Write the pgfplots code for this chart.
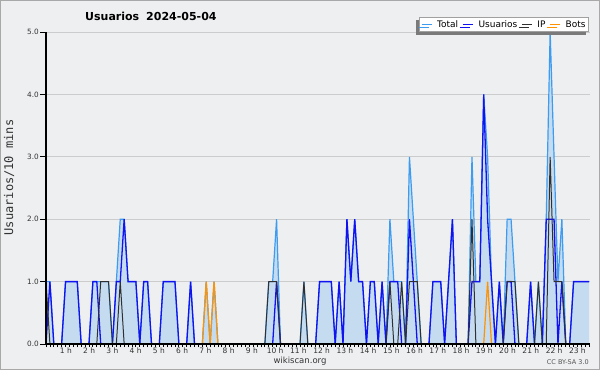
\documentclass[border=0pt]{standalone}
\usepackage{pgfplots}
\pgfplotsset{compat=1.18}
\usepackage{pgfplotstable}
\usetikzlibrary{shadows}
\usepackage{fontspec}
\setmainfont{DejaVu Sans}
\newfontfamily\monofont{DejaVu Sans Mono}
\definecolor{bg}{HTML}{EEEFF1}
\definecolor{bordergray}{HTML}{A8A8A8}
\definecolor{gridgray}{HTML}{CCCCCC}
\definecolor{fillblue}{HTML}{C5DCF0}
\definecolor{totalblue}{HTML}{3D9BF0}
\definecolor{userblue}{HTML}{1212F0}
\definecolor{ipblack}{HTML}{303030}
\definecolor{botorange}{HTML}{FF9200}
\definecolor{txt}{HTML}{333333}
\definecolor{txtb}{HTML}{555555}
\definecolor{legborder}{HTML}{A0A0A0}
\definecolor{shadowgray}{HTML}{7A7A7A}
\pgfplotstableread{
j U IP B T
0 0 1 0 1
1 1 0 0 1
2 0 0 0 0
3 0 0 0 0
4 0 0 0 0
5 1 0 0 1
6 1 0 0 1
7 1 0 0 1
8 1 0 0 1
9 0 0 0 0
10 0 0 0 0
11 0 0 0 0
12 1 0 0 1
13 1 0 0 1
14 0 1 0 1
15 0 1 0 1
16 0 1 0 1
17 0 0 0 0
18 1 0 0 1
19 1 1 0 2
20 2 0 0 2
21 1 0 0 1
22 1 0 0 1
23 1 0 0 1
24 0 0 0 0
25 1 0 0 1
26 1 0 0 1
27 0 0 0 0
28 0 0 0 0
29 0 0 0 0
30 1 0 0 1
31 1 0 0 1
32 1 0 0 1
33 1 0 0 1
34 0 0 0 0
35 0 0 0 0
36 0 0 0 0
37 1 0 0 1
38 0 0 0 0
39 0 0 0 0
40 0 0 0 0
41 0 0 1 1
42 0 0 0 0
43 0 0 1 1
44 0 0 0 0
45 0 0 0 0
46 0 0 0 0
47 0 0 0 0
48 0 0 0 0
49 0 0 0 0
50 0 0 0 0
51 0 0 0 0
52 0 0 0 0
53 0 0 0 0
54 0 0 0 0
55 0 0 0 0
56 0 0 0 0
57 0 1 0 1
58 0 1 0 1
59 1 1 0 2
60 0 0 0 0
61 0 0 0 0
62 0 0 0 0
63 0 0 0 0
64 0 0 0 0
65 0 0 0 0
66 0 1 0 1
67 0 0 0 0
68 0 0 0 0
69 0 0 0 0
70 1 0 0 1
71 1 0 0 1
72 1 0 0 1
73 1 0 0 1
74 0 0 0 0
75 1 0 0 1
76 0 0 0 0
77 2 0 0 2
78 1 0 0 1
79 2 0 0 2
80 1 0 0 1
81 1 0 0 1
82 0 0 0 0
83 1 0 0 1
84 1 0 0 1
85 0 0 0 0
86 1 0 0 1
87 0 0 0 0
88 1 1 0 2
89 1 0 0 1
90 1 0 0 1
91 0 1 0 1
92 0 0 0 0
93 2 1 0 3
94 1 1 0 2
95 0 1 0 1
96 0 0 0 0
97 0 0 0 0
98 0 0 0 0
99 1 0 0 1
100 1 0 0 1
101 1 0 0 1
102 0 0 0 0
103 1 0 0 1
104 2 0 0 2
105 0 0 0 0
106 0 0 0 0
107 0 0 0 0
108 0 0 0 0
109 1 2 0 3
110 1 0 0 1
111 1 0 0 1
112 4 0 0 4
113 2 0 1 3
114 1 0 0 1
115 0 0 0 0
116 1 0 0 1
117 0 0 0 0
118 1 1 0 2
119 1 1 0 2
120 0 1 0 1
121 0 0 0 0
122 0 0 0 0
123 0 0 0 0
124 1 0 0 1
125 0 0 0 0
126 0 1 0 1
127 0 0 0 0
128 2 0 0 2
129 2 3 0 5
130 2 1 0 3
131 0 1 0 1
132 1 1 0 2
133 0 0 0 0
134 0 0 0 0
135 1 0 0 1
136 1 0 0 1
137 1 0 0 1
138 1 0 0 1
139 1 0 0 1
}\data
\begin{document}
\begin{tikzpicture}[x=1pt,y=1pt]
\fill[bg] (0,0) rectangle (600,370);
\draw[bordergray, line width=1pt] (0.5,0.5) rectangle (599.5,369.5);
\node[anchor=base west, font=\bfseries\fontsize{11}{12}\selectfont, text=black, inner sep=0pt] at (85,349) {Usuarios\hspace{7pt}2024-05-04};
\node[rotate=90, font=\monofont\fontsize{12}{13}\selectfont, text=txt] at (9,192.5) {Usuarios/10 mins};
\node[font=\fontsize{8.5}{9}\selectfont, text=txt] at (300,8.5) {wikiscan.org};
\node[anchor=east, font=\fontsize{6.5}{7}\selectfont, text=txtb, inner sep=0pt] at (589,7.5) {CC BY-SA 3.0};
\begin{axis}[
  at={(46pt,26pt)}, anchor=south west,
  scale only axis, width=544pt, height=312pt,
  xmin=0, xmax=139.2, ymin=0, ymax=5,
  axis x line*=bottom, axis y line*=left,
  axis line style={black, -},
  x axis line style={line width=1.7pt},
  y axis line style={line width=1.3pt},
  xtick={0,1,...,139}, xticklabels={},
  extra x ticks={5.08,11.03,16.98,22.93,28.88,34.82,40.77,46.72,52.67,58.62,64.57,70.52,76.47,82.42,88.37,94.31,100.26,106.21,112.16,118.11,124.06,130.01,135.96},
  extra x tick labels={1 h,2 h,3 h,4 h,5 h,6 h,7 h,8 h,9 h,10 h,11 h,12 h,13 h,14 h,15 h,16 h,17 h,18 h,19 h,20 h,21 h,22 h,23 h},
  extra x tick style={major tick length=0pt, grid=none},
  ytick=\empty,
  extra y ticks={0,1,2,3,4,5},
  extra y tick labels={0.0,1.0,2.0,3.0,4.0,5.0},
  extra y tick style={major tick length=6pt, grid=major},
  minor ytick={0,0.25,...,5},
  tick align=outside, major tick length=3pt, minor tick length=4pt,
  tick style={black, line width=0.8pt},
  grid style={gridgray, line width=0.8pt},
  xticklabel style={font=\fontsize{7.5}{8}\selectfont, text=txt, inner sep=1pt, yshift=-3pt},
  yticklabel style={font=\fontsize{7.3}{8}\selectfont, text=txt, inner sep=1pt},
  legend columns=4,
  legend image code/.code={\draw[#1] (0pt,0pt) -- (10pt,0pt);},
  legend style={at={(1,1)}, anchor=north east, xshift=-1pt, yshift=15pt,
    draw=legborder, fill=white, line width=0.8pt,
    font=\fontsize{9}{9}\selectfont, inner xsep=2pt, inner ysep=1.5pt,
    nodes={inner xsep=1pt, inner ysep=1.5pt},
    drop shadow={shadow xshift=-3pt, shadow yshift=-3pt, fill=shadowgray, opacity=1},
    /tikz/every odd column/.append style={column sep=4pt},
    /tikz/every even column/.append style={column sep=3pt}},
  after end axis/.code={
    \draw[black, line width=1.7pt] (rel axis cs:0,0) -- (rel axis cs:1,0);
    \draw[black, line width=1.3pt] (rel axis cs:0,0) -- (rel axis cs:0,1);
  },
]
\addplot[fill=fillblue, draw=none, forget plot] table[x=j, y=T] {\data} \closedcycle;
\addplot[totalblue, line width=1.2pt] table[x=j, y=T] {\data};
\addplot[userblue, line width=1.3pt] table[x=j, y=U] {\data};
\addplot[ipblack, line width=1pt] table[x=j, y=IP] {\data};
\addplot[botorange, line width=1.2pt] table[x=j, y=B] {\data};
\legend{Total,Usuarios,IP,Bots}
\end{axis}
\pgfresetboundingbox
\useasboundingbox (0,0) rectangle (600,370);
\end{tikzpicture}
\end{document}
